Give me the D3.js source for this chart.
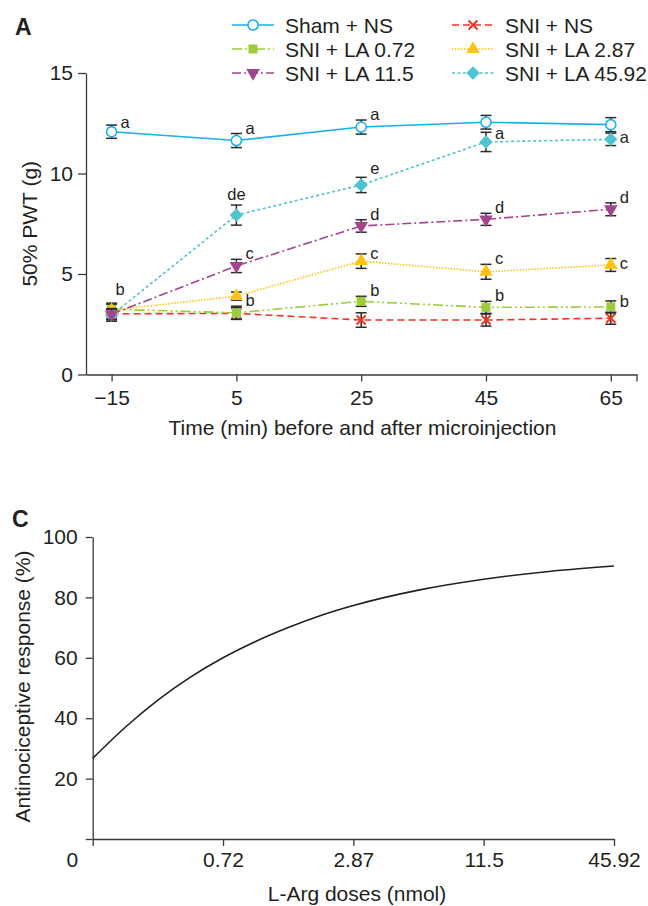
<!DOCTYPE html>
<html>
<head>
<meta charset="utf-8">
<script src="https://d3js.org/d3.v7.min.js"></script>
<style>
  body { margin: 0; background: #fff; }
  svg { display: block; font-family: "Liberation Sans", Arial, sans-serif; background: #fff; }
  .axis text { font-size: 21px; fill: #231f20; font-family: "Liberation Sans", Arial, sans-serif; }
  .axis path, .axis line { stroke: #3a3a3a; stroke-width: 1.3; }
  .title { font-size: 21px; fill: #231f20; }
  .letter { font-size: 16.5px; fill: #231f20; }
  .legend text { font-size: 21px; fill: #231f20; }
  .panel { font-size: 23px; font-weight: bold; fill: #231f20; }
</style>
</head>
<body>
<svg id="chart" width="648" height="906"></svg>
<script>
// ---- panel A data (50% PWT, g) ----
var times = [-15, 5, 25, 45, 65];
var groups = ['Sham + NS', 'SNI + NS', 'SNI + LA 0.72', 'SNI + LA 2.87', 'SNI + LA 11.5', 'SNI + LA 45.92'];
var shamNS = [12.08, 11.64, 12.31, 12.55, 12.43];
var shamNSErr = [0.33, 0.35, 0.35, 0.34, 0.35];
var sniNS = [3.02, 3.04, 2.71, 2.71, 2.80];
var sniNSErr = [0.25, 0.28, 0.36, 0.30, 0.30];
var la072 = [3.25, 3.07, 3.64, 3.34, 3.36];
var la072Err = [0.30, 0.33, 0.25, 0.30, 0.30];
var la287 = [3.20, 3.90, 5.64, 5.11, 5.45];
var la287Err = [0.30, 0.20, 0.36, 0.37, 0.32];
var la115 = [3.00, 5.40, 7.39, 7.72, 8.22];
var la115Err = [0.28, 0.33, 0.31, 0.30, 0.32];
var la4592 = [2.95, 7.93, 9.43, 11.57, 11.70];
var la4592Err = [0.30, 0.50, 0.38, 0.48, 0.31];
// significance letters
var shamLetters = ['a', 'a', 'a', '', ''];
var sniNSLetters = ['', '', '', '', ''];
var la072Letters = ['b', 'b', 'b', 'b', 'b'];
var la287Letters = ['', '', 'c', 'c', 'c'];
var la115Letters = ['', 'c', 'd', 'd', 'd'];
var la4592Letters = ['', 'de', 'e', 'a', 'a'];
var pwtTicks = [0, 5, 10, 15];

// ---- panel C data ----
var doses = ['0', '0.72', '2.87', '11.5', '45.92'];
var curvePos = [0, 0.25, 0.5, 0.75, 1, 1.25, 1.5, 1.75, 2, 2.5, 3, 3.5, 4];
var curveResp = [26.7, 37.0, 46.0, 53.6, 60.0, 65.4, 70.0, 74.0, 77.3, 82.4, 86.0, 88.6, 90.4];
var respTicks = [0, 20, 40, 60, 80, 100];

var svg = d3.select('#chart');

// ================= Panel A =================
var series = [
  {name: groups[0], v: shamNS, e: shamNSErr, lab: shamLetters, color: '#1ab1ea', dash: null, sym: 'circle'},
  {name: groups[1], v: sniNS, e: sniNSErr, lab: sniNSLetters, color: '#ee3524', dash: '7,4', sym: 'x'},
  {name: groups[2], v: la072, e: la072Err, lab: la072Letters, color: '#9ccb3b', dash: '10,3,2,3,2,3', sym: 'square'},
  {name: groups[3], v: la287, e: la287Err, lab: la287Letters, color: '#ffc20e', dash: '1.5,1.5', sym: 'triUp'},
  {name: groups[4], v: la115, e: la115Err, lab: la115Letters, color: '#a3448e', dash: '9,3,2,3', sym: 'triDown'},
  {name: groups[5], v: la4592, e: la4592Err, lab: la4592Letters, color: '#4fc3cf', dash: '3,2.5', sym: 'diamond'}
];
var drawOrder = [0, 1, 2, 3, 5, 4];

// letter placement tweaks (series-index)
var letterShift = {
  '2-0': {dx: 4, dy: -8},
  '5-1': {dx: 0, dy: -5, anchor: 'middle'},
  '5-2': {dy: -3},
  '5-3': {dy: 7},
  '5-4': {dy: 10},
  '3-2': {dy: 5},
  '3-4': {dy: 10},
  '2-4': {dy: 6},
  '0-0': {dy: 3}
};

var xA = d3.scaleLinear().domain([-19.1, 69.2]).range([86, 637]);
var yA = d3.scaleLinear().domain([0, 15]).range([374.5, 73]);

var gA = svg.append('g');

gA.append('g')
  .attr('class', 'axis')
  .attr('transform', 'translate(0,' + yA(0) + ')')
  .call(d3.axisBottom(xA).tickValues(times).tickSize(7).tickPadding(9).tickSizeOuter(0));
gA.append('line')
  .attr('x1', xA(xA.domain()[1])).attr('x2', xA(xA.domain()[1]))
  .attr('y1', yA(0)).attr('y2', yA(0) + 7)
  .attr('stroke', '#3a3a3a').attr('stroke-width', 1.3);

gA.append('g')
  .attr('class', 'axis')
  .attr('transform', 'translate(' + xA.range()[0] + ',0)')
  .call(d3.axisLeft(yA).tickValues(pwtTicks).tickSize(8).tickPadding(5).tickSizeOuter(0));

gA.append('text').attr('class', 'title')
  .attr('transform', 'translate(37,' + (yA(7.5)) + ') rotate(-90)')
  .attr('text-anchor', 'middle')
  .text('50% PWT (g)');
gA.append('text').attr('class', 'title')
  .attr('x', (xA.range()[0] + xA.range()[1]) / 2 + 1).attr('y', 435)
  .attr('text-anchor', 'middle')
  .text('Time (min) before and after microinjection');
svg.append('text').attr('class', 'panel').attr('x', 15).attr('y', 35).text('A');

function drawMarker(g, s, x, y) {
  var p;
  if (s.sym === 'circle') {
    p = g.append('path').attr('d', d3.symbol(d3.symbolCircle, 80)())
      .attr('fill', '#fff').attr('stroke', s.color).attr('stroke-width', 1.6);
  } else if (s.sym === 'x') {
    p = g.append('path').attr('d', d3.symbol(d3.symbolX, 55)())
      .attr('fill', 'none').attr('stroke', s.color).attr('stroke-width', 2);
  } else if (s.sym === 'square') {
    p = g.append('path').attr('d', d3.symbol(d3.symbolSquare, 81)()).attr('fill', s.color);
  } else if (s.sym === 'triUp') {
    p = g.append('path').attr('d', d3.symbol(d3.symbolTriangle, 80)()).attr('fill', s.color);
  } else if (s.sym === 'triDown') {
    p = g.append('path').attr('d', d3.symbol(d3.symbolTriangle, 80)()).attr('fill', s.color);
    p.attr('transform', 'translate(' + x + ',' + y + ') rotate(180)');
    return;
  } else {
    p = g.append('path').attr('d', d3.symbol(d3.symbolSquare, 90)()).attr('fill', s.color);
    p.attr('transform', 'translate(' + x + ',' + y + ') rotate(45)');
    return;
  }
  p.attr('transform', 'translate(' + x + ',' + y + ')');
}

var lineA = d3.line().x(function (d) { return xA(d[0]); }).y(function (d) { return yA(d[1]); });

drawOrder.forEach(function (si) {
  var s = series[si];
  var pts = times.map(function (t, i) { return [t, s.v[i]]; });
  gA.append('path')
    .attr('d', lineA(pts))
    .attr('fill', 'none')
    .attr('stroke', s.color)
    .attr('stroke-width', 1.6)
    .attr('stroke-dasharray', s.dash);
});

drawOrder.forEach(function (si) {
  var s = series[si];
  var g = gA.append('g');
  times.forEach(function (t, i) {
    var x = xA(t), lo = yA(s.v[i] - s.e[i]), hi = yA(s.v[i] + s.e[i]);
    g.append('line').attr('x1', x).attr('x2', x).attr('y1', lo).attr('y2', hi);
    g.append('line').attr('x1', x - 5.5).attr('x2', x + 5.5).attr('y1', lo).attr('y2', lo);
    g.append('line').attr('x1', x - 5.5).attr('x2', x + 5.5).attr('y1', hi).attr('y2', hi);
  });
  g.selectAll('line').attr('stroke', '#2a2a2a').attr('stroke-width', 1.5);
  times.forEach(function (t, i) { drawMarker(g, s, xA(t), yA(s.v[i])); });
});

series.forEach(function (s, si) {
  times.forEach(function (t, i) {
    if (!s.lab[i]) return;
    var sh = letterShift[si + '-' + i] || {};
    gA.append('text').attr('class', 'letter')
      .attr('x', xA(t) + (sh.dx !== undefined ? sh.dx : 9))
      .attr('y', yA(s.v[i] + s.e[i]) + (sh.dy !== undefined ? sh.dy : 0))
      .attr('text-anchor', sh.anchor || 'start')
      .text(s.lab[i]);
  });
});

// legend
var leg = svg.append('g').attr('class', 'legend');
series.forEach(function (s, i) {
  var col = i % 2, row = Math.floor(i / 2);
  var x0 = col === 0 ? 232 : 452, yc = 25 + row * 24;
  var g = leg.append('g');
  g.append('line').attr('x1', x0).attr('x2', x0 + 42).attr('y1', yc).attr('y2', yc)
    .attr('stroke', s.color).attr('stroke-width', 1.6).attr('stroke-dasharray', s.dash);
  drawMarker(g, s, x0 + 21, yc);
  g.append('text').attr('x', x0 + 53).attr('y', yc + 7.5).text(s.name);
});

// ================= Panel C =================
var xC = d3.scaleLinear().domain([0, doses.length - 1]).range([92.7, 614]);
var yC = d3.scaleLinear().domain([0, 100]).range([839, 537]);

var gC = svg.append('g');
var xAxisC = gC.append('g')
  .attr('class', 'axis')
  .attr('transform', 'translate(0,' + yC(0) + ')')
  .call(d3.axisBottom(xC).tickValues(d3.range(doses.length)).tickFormat(function (i) { return doses[i]; })
    .tickSize(7).tickPadding(6).tickSizeOuter(0));
xAxisC.selectAll('.tick').filter(function (d) { return d === 0; }).select('text')
  .attr('text-anchor', 'end').attr('x', -15);

gC.append('g')
  .attr('class', 'axis')
  .attr('transform', 'translate(' + xC(0) + ',0)')
  .call(d3.axisLeft(yC).tickValues(respTicks).tickFormat(function (d) { return d === 0 ? '' : d; })
    .tickSize(7).tickPadding(8).tickSizeOuter(0));

var lineC = d3.line().curve(d3.curveMonotoneX)
  .x(function (d, i) { return xC(curvePos[i]); })
  .y(function (d) { return yC(d); });
gC.append('path').attr('d', lineC(curveResp))
  .attr('fill', 'none').attr('stroke', '#231f20').attr('stroke-width', 1.6);

gC.append('text').attr('class', 'title')
  .attr('transform', 'translate(30,' + yC(50.5) + ') rotate(-90)')
  .attr('text-anchor', 'middle')
  .text('Antinociceptive response (%)');
gC.append('text').attr('class', 'title')
  .attr('x', 357).attr('y', 901)
  .attr('text-anchor', 'middle')
  .text('L-Arg doses (nmol)');
svg.append('text').attr('class', 'panel').attr('x', 12).attr('y', 527).text('C');
</script>
</body>
</html>
